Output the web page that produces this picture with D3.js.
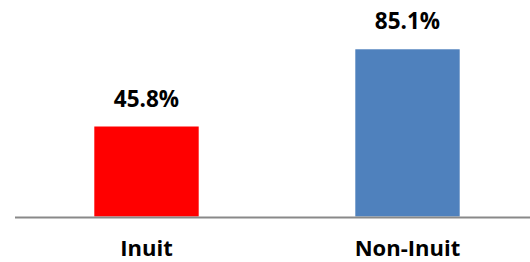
<!DOCTYPE html>
<html>
<head>
<meta charset="utf-8">
<script src="https://cdn.jsdelivr.net/npm/d3@7"></script>
<style>
  html, body { margin: 0; padding: 0; background: #fff; }
  svg { display: block; }
  text { font-family: "Open Sans", sans-serif; font-weight: 700; fill: #000; }
</style>
</head>
<body>
<svg id="chart" width="530" height="262"></svg>
<script>
const categories = ["Inuit", "Non-Inuit"];
const values = [45.8, 85.1];
const colors = ["#ff0000", "#4f81bd"];

const svg = d3.select("#chart");
const x = d3.scaleBand().domain(categories).range([16, 538]).paddingInner(0.6).paddingOuter(0.3);
const y = d3.scaleLinear().domain([0, 100]).range([216.5, 20]);

svg.selectAll("rect.bar").data(values).enter().append("rect")
  .attr("class", "bar")
  .attr("x", (d, i) => x(categories[i]))
  .attr("width", x.bandwidth())
  .attr("y", d => y(d))
  .attr("height", d => y(0) - y(d))
  .attr("fill", (d, i) => colors[i]);

svg.append("line")
  .attr("x1", 15).attr("x2", 530)
  .attr("y1", y(0) + 1).attr("y2", y(0) + 1)
  .attr("stroke", "#898989").attr("stroke-width", 2);

svg.selectAll("text.val").data(values).enter().append("text")
  .attr("class", "val")
  .attr("x", (d, i) => x(categories[i]) + x.bandwidth() / 2)
  .attr("y", d => y(d) - 20)
  .attr("text-anchor", "middle")
  .style("font-size", "22.5px")
  .text(d => d.toFixed(1) + "%");

svg.selectAll("text.cat").data(categories).enter().append("text")
  .attr("class", "cat")
  .attr("x", d => x(d) + x.bandwidth() / 2)
  .attr("y", 256)
  .attr("text-anchor", "middle")
  .style("font-size", "22px")
  .text(d => d);
</script>
</body>
</html>
